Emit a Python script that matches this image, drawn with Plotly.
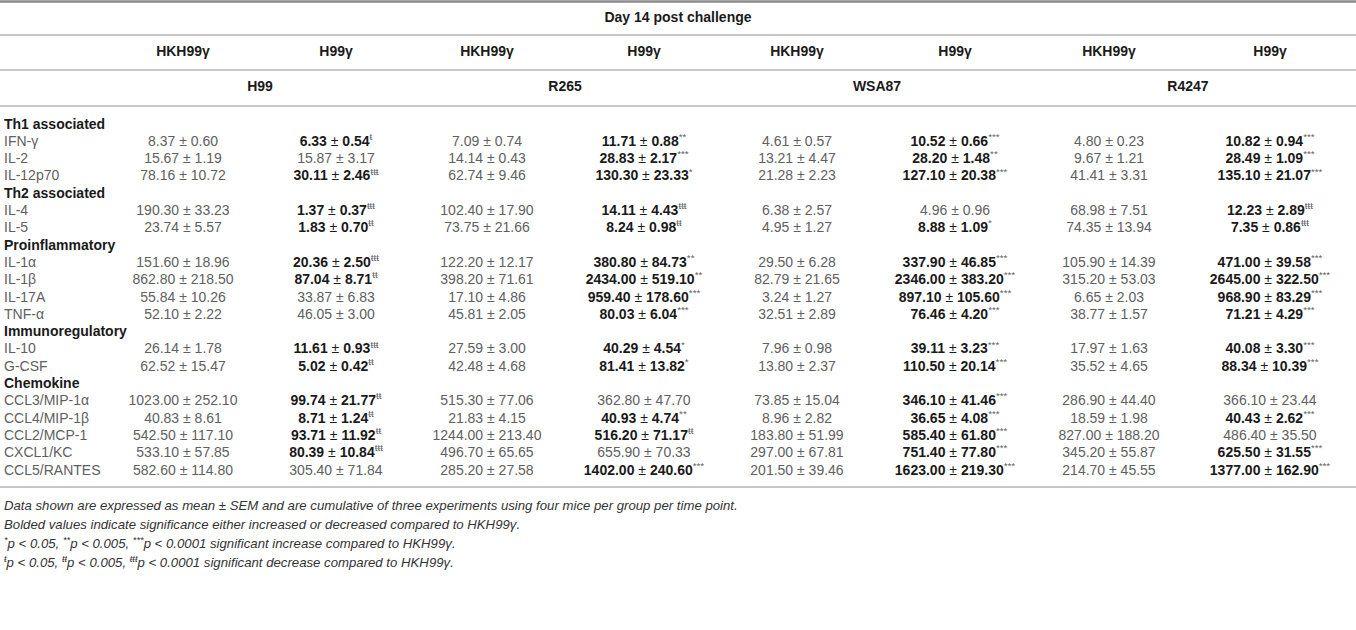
import plotly.graph_objects as go

# ---------------- data ----------------
title = "Day 14 post challenge"
treatments = ["HKH99γ", "H99γ"]
strains = ["H99", "R265", "WSA87", "R4247"]
groups = ["Th1 associated", "Th2 associated", "Proinflammatory", "Immunoregulatory", "Chemokine"]
group_sizes = [3, 2, 4, 2, 5]
cytokines = ["IFN-γ", "IL-2", "IL-12p70",
             "IL-4", "IL-5",
             "IL-1α", "IL-1β", "IL-17A", "TNF-α",
             "IL-10", "G-CSF",
             "CCL3/MIP-1α", "CCL4/MIP-1β", "CCL2/MCP-1", "CXCL1/KC", "CCL5/RANTES"]

h99_hk_mean = [8.37, 15.67, 78.16, 190.30, 23.74, 151.60, 862.80, 55.84, 52.10, 26.14, 62.52, 1023.00, 40.83, 542.50, 533.10, 582.60]
h99_hk_sem = [0.60, 1.19, 10.72, 33.23, 5.57, 18.96, 218.50, 10.26, 2.22, 1.78, 15.47, 252.10, 8.61, 117.10, 57.85, 114.80]
h99_hk_sig = [""] * 16
h99_g_mean = [6.33, 15.87, 30.11, 1.37, 1.83, 20.36, 87.04, 33.87, 46.05, 11.61, 5.02, 99.74, 8.71, 93.71, 80.39, 305.40]
h99_g_sem = [0.54, 3.17, 2.46, 0.37, 0.70, 2.50, 8.71, 6.83, 3.00, 0.93, 0.42, 21.77, 1.24, 11.92, 10.84, 71.84]
h99_g_sig = ["ŧ", "", "ŧŧŧ", "ŧŧŧ", "ŧŧ", "ŧŧŧ", "ŧŧ", "", "", "ŧŧŧ", "ŧŧ", "ŧŧ", "ŧŧ", "ŧŧ", "ŧŧŧ", ""]

r265_hk_mean = [7.09, 14.14, 62.74, 102.40, 73.75, 122.20, 398.20, 17.10, 45.81, 27.59, 42.48, 515.30, 21.83, 1244.00, 496.70, 285.20]
r265_hk_sem = [0.74, 0.43, 9.46, 17.90, 21.66, 12.17, 71.61, 4.86, 2.05, 3.00, 4.68, 77.06, 4.15, 213.40, 65.65, 27.58]
r265_hk_sig = [""] * 16
r265_g_mean = [11.71, 28.83, 130.30, 14.11, 8.24, 380.80, 2434.00, 959.40, 80.03, 40.29, 81.41, 362.80, 40.93, 516.20, 655.90, 1402.00]
r265_g_sem = [0.88, 2.17, 23.33, 4.43, 0.98, 84.73, 519.10, 178.60, 6.04, 4.54, 13.82, 47.70, 4.74, 71.17, 70.33, 240.60]
r265_g_sig = ["**", "***", "*", "ŧŧŧ", "ŧŧ", "**", "**", "***", "***", "*", "*", "", "**", "ŧŧ", "", "***"]

wsa87_hk_mean = [4.61, 13.21, 21.28, 6.38, 4.95, 29.50, 82.79, 3.24, 32.51, 7.96, 13.80, 73.85, 8.96, 183.80, 297.00, 201.50]
wsa87_hk_sem = [0.57, 4.47, 2.23, 2.57, 1.27, 6.28, 21.65, 1.27, 2.89, 0.98, 2.37, 15.04, 2.82, 51.99, 67.81, 39.46]
wsa87_hk_sig = [""] * 16
wsa87_g_mean = [10.52, 28.20, 127.10, 4.96, 8.88, 337.90, 2346.00, 897.10, 76.46, 39.11, 110.50, 346.10, 36.65, 585.40, 751.40, 1623.00]
wsa87_g_sem = [0.66, 1.48, 20.38, 0.96, 1.09, 46.85, 383.20, 105.60, 4.20, 3.23, 20.14, 41.46, 4.08, 61.80, 77.80, 219.30]
wsa87_g_sig = ["***", "**", "***", "", "*", "***", "***", "***", "***", "***", "***", "***", "***", "***", "***", "***"]

r4247_hk_mean = [4.80, 9.67, 41.41, 68.98, 74.35, 105.90, 315.20, 6.65, 38.77, 17.97, 35.52, 286.90, 18.59, 827.00, 345.20, 214.70]
r4247_hk_sem = [0.23, 1.21, 3.31, 7.51, 13.94, 14.39, 53.03, 2.03, 1.57, 1.63, 4.65, 44.40, 1.98, 188.20, 55.87, 45.55]
r4247_hk_sig = [""] * 16
r4247_g_mean = [10.82, 28.49, 135.10, 12.23, 7.35, 471.00, 2645.00, 968.90, 71.21, 40.08, 88.34, 366.10, 40.43, 486.40, 625.50, 1377.00]
r4247_g_sem = [0.94, 1.09, 21.07, 2.89, 0.86, 39.58, 322.50, 83.29, 4.29, 3.30, 10.39, 23.44, 2.62, 35.50, 31.55, 162.90]
r4247_g_sig = ["***", "***", "***", "ŧŧŧ", "ŧŧŧ", "***", "***", "***", "***", "***", "***", "", "***", "", "***", "***"]

footnotes = [
    "Data shown are expressed as mean ± SEM and are cumulative of three experiments using four mice per group per time point.",
    "Bolded values indicate significance either increased or decreased compared to HKH99γ.",
    "<sup>*</sup>p &lt; 0.05, <sup>**</sup>p &lt; 0.005, <sup>***</sup>p &lt; 0.0001 significant increase compared to HKH99γ.",
    "<sup>ŧ</sup>p &lt; 0.05, <sup>ŧŧ</sup>p &lt; 0.005, <sup>ŧŧŧ</sup>p &lt; 0.0001 significant decrease compared to HKH99γ.",
]

columns = [
    (h99_hk_mean, h99_hk_sem, h99_hk_sig), (h99_g_mean, h99_g_sem, h99_g_sig),
    (r265_hk_mean, r265_hk_sem, r265_hk_sig), (r265_g_mean, r265_g_sem, r265_g_sig),
    (wsa87_hk_mean, wsa87_hk_sem, wsa87_hk_sig), (wsa87_g_mean, wsa87_g_sem, wsa87_g_sig),
    (r4247_hk_mean, r4247_hk_sem, r4247_hk_sig), (r4247_g_mean, r4247_g_sem, r4247_g_sig),
]

# ---------------- layout geometry ----------------
W, H = 1356, 630
col_x = [183, 336, 487, 644, 797, 955, 1109, 1270]
strain_x = [260, 565, 877, 1188]
title_x = 678
label_x = 4
y_title, y_treat, y_strain = 18, 52, 87
hlines = [(1.5, 2.5, "#8a8a8a"), (35, 1.3, "#b4b4b4"), (70, 1.3, "#b4b4b4"), (106, 1.3, "#b4b4b4")]
y_first_row = 125
pitch = 17.3
foot_y0 = 507
foot_pitch = 19

FONT = "Liberation Sans, Arial, sans-serif"
REG = "#606060"
BLK = "#1a1a1a"
FS = 14

group_y = []
cyto_y = []
k = 0
for g, n in zip(groups, group_sizes):
    group_y.append(y_first_row + k * pitch)
    k += 1
    for _ in range(n):
        cyto_y.append(y_first_row + k * pitch)
        k += 1
table_bottom = cyto_y[-1] + 16

fig = go.Figure()

def add_text(xs, ys, texts, pos, size, color, weight="normal"):
    fig.add_trace(go.Scatter(
        x=xs, y=ys, text=texts, mode="text", textposition=pos,
        textfont=dict(family=FONT, size=size, color=color, weight=weight),
        hoverinfo="skip", showlegend=False, cliponaxis=False))

# header rows
add_text([title_x], [y_title], [title], "middle center", FS, BLK, "bold")
add_text(col_x, [y_treat] * 8, [treatments[i % 2] for i in range(8)], "middle center", FS, BLK, "bold")
add_text(strain_x, [y_strain] * 4, strains, "middle center", FS, BLK, "bold")

# group labels & cytokine labels
add_text([label_x] * len(groups), group_y, groups, "middle right", FS, BLK, "bold")
add_text([label_x] * len(cytokines), cyto_y, cytokines, "middle right", FS, REG)

# cell values
reg_x, reg_y, reg_t = [], [], []
bold_x, bold_y, bold_t = [], [], []
for ci, (means, sems, sigs) in enumerate(columns):
    for ri, (m, s, sg) in enumerate(zip(means, sems, sigs)):
        if sg:
            bold_x.append(col_x[ci]); bold_y.append(cyto_y[ri])
            bold_t.append(f"<b>{m:.2f}</b> ± <b>{s:.2f}</b><span style='color:{REG}'><sup>{sg}</sup></span>")
        else:
            reg_x.append(col_x[ci]); reg_y.append(cyto_y[ri])
            reg_t.append(f"{m:.2f} ± {s:.2f}")
add_text(reg_x, reg_y, reg_t, "middle center", FS, REG)
add_text(bold_x, bold_y, bold_t, "middle center", FS, BLK)

# footnotes
add_text([label_x] * len(footnotes), [foot_y0 + i * foot_pitch for i in range(len(footnotes))],
         [f"<i>{t}</i>" for t in footnotes], "middle right", 13.2, "#333333")

shapes = []
for y, w, c in hlines + [(table_bottom, 1.3, "#b4b4b4")]:
    shapes.append(dict(type="line", xref="x", yref="y", x0=0, x1=W, y0=y, y1=y,
                       line=dict(color=c, width=w)))

fig.update_layout(
    width=W, height=H, margin=dict(l=0, r=0, t=0, b=0),
    paper_bgcolor="white", plot_bgcolor="white",
    xaxis=dict(range=[0, W], visible=False, fixedrange=True),
    yaxis=dict(range=[H, 0], visible=False, fixedrange=True),
    shapes=shapes, showlegend=False,
)
fig.write_html("out.html", config={"displayModeBar": False},
               post_script="document.body.style.margin='0';document.body.style.padding='0';document.body.style.overflow='hidden';")
